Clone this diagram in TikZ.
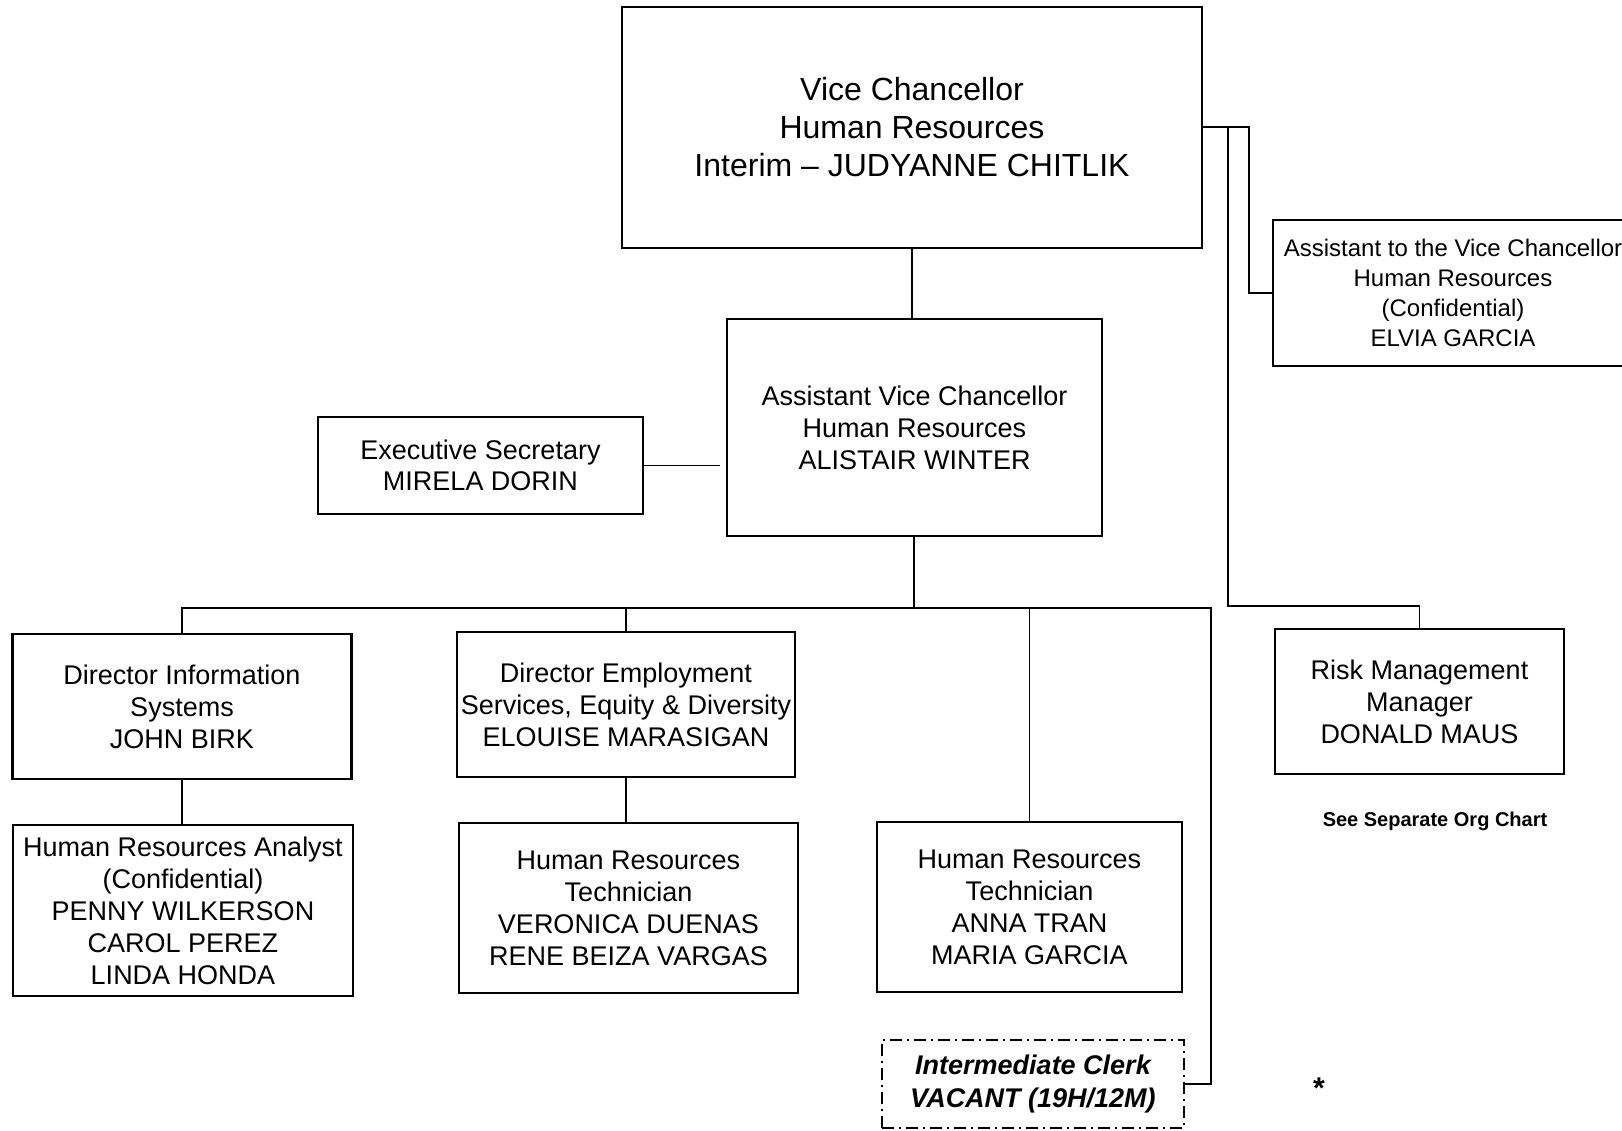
\documentclass[tikz,border=0pt]{standalone}
\usepackage{fontspec}
\setmainfont{Liberation Sans}
\newcommand\myfs[2]{\fontsize{#1}{#2}\selectfont}
\begin{document}
\begin{tikzpicture}[x=1pt,y=-1pt,
  box/.style={draw, line width=2.4pt, align=center, inner sep=0pt, font=\myfs{27}{32}},
  conn/.style={line width=1.9pt},
]
\useasboundingbox (0,0) rectangle (1622,1130);
% boxes
\node[box, minimum width=580pt, minimum height=241pt, font=\myfs{32}{38}] (vc) at (912,127.5)
  {Vice Chancellor\\Human Resources\\Interim \textendash{} JUDYANNE CHITLIK};
\node[box, minimum width=375pt, minimum height=217pt] (avc) at (914.5,427.5)
  {Assistant Vice Chancellor\\Human Resources\\ALISTAIR WINTER};
\node[box, minimum width=325pt, minimum height=97pt, font=\myfs{27}{31}] (exec) at (480.5,465.5)
  {Executive Secretary\\MIRELA DORIN};
\node[box, minimum width=360pt, minimum height=146pt, font=\myfs{24}{30}] (asst) at (1453,293)
  {Assistant to the Vice Chancellor\\Human Resources\\(Confidential)\\ELVIA GARCIA};
\node[box, minimum width=339pt, minimum height=145pt] (dis) at (182,706.5)
  {Director Information\\Systems\\JOHN BIRK};
\node[box, minimum width=338pt, minimum height=145pt] (des) at (626,704.5)
  {Director Employment\\Services, Equity \& Diversity\\ELOUISE MARASIGAN};
\node[box, minimum width=340pt, minimum height=171pt] (hra) at (183,910.5)
  {Human Resources Analyst\\(Confidential)\\PENNY WILKERSON\\CAROL PEREZ\\LINDA HONDA};
\node[box, minimum width=339pt, minimum height=170pt] (hrt1) at (628.5,908)
  {Human Resources\\Technician\\VERONICA DUENAS\\RENE BEIZA VARGAS};
\node[box, minimum width=305pt, minimum height=170pt] (hrt2) at (1029.5,907)
  {Human Resources\\Technician\\ANNA TRAN\\MARIA GARCIA};
\node[box, minimum width=289pt, minimum height=145pt] (risk) at (1419.5,701.5)
  {Risk Management\\Manager\\DONALD MAUS};
\node[box, line width=2pt, dash pattern=on 12pt off 5pt on 2pt off 5pt,
  minimum width=302pt, minimum height=88pt, font=\myfs{27}{33}\bfseries\itshape] (clerk) at (1033,1084)
  {Intermediate Clerk\\VACANT (19H/12M)};
\node[font=\myfs{20}{24}\bfseries] (note) at (1435,821) {See Separate Org Chart};
\node[font=\myfs{30}{30}\bfseries] (star) at (1319,1088) {*};
% coordinates
\coordinate (bus) at (914,608);
\coordinate (vcr) at (1249,127);
\coordinate (rbr) at (1228,127);
\coordinate (clk) at (1211,608);
% connectors
\draw[conn] (vc.south) -- (vc.south |- avc.north);
\draw[conn, shorten >=6pt] (exec.east) -- (exec.east -| avc.west);
\draw[conn] (avc.south -| bus) -- (bus);
\draw[conn] (dis.north) -- (dis.north |- bus) -- (clk) -- (clk |- clerk.east) -- (clerk.east);
\draw[conn] (des.north) -- (des.north |- bus);
\draw[conn] (hrt2.north) -- (hrt2.north |- bus);
\draw[conn] (dis.south) -- (dis.south |- hra.north);
\draw[conn] (des.south) -- (des.south |- hrt1.north);
\draw[conn] (vc.east |- vcr) -- (vcr) -- (vcr |- asst.west) -- (asst.west);
\draw[conn] (rbr) -- (rbr |- 0,606) -- (risk.north |- 0,606) -- (risk.north);
\end{tikzpicture}
\end{document}
